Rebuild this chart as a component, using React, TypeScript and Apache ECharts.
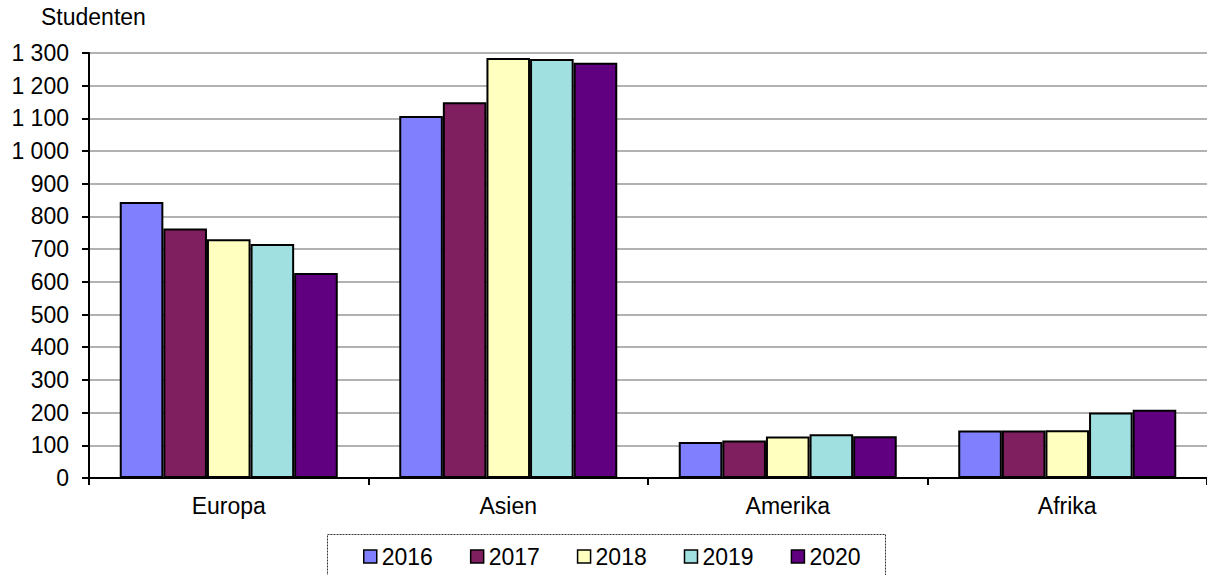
import React, { useEffect, useRef } from "react";
import * as echarts from "echarts";

const categories = ["Europa", "Asien", "Amerika", "Afrika"];
const years = ["2016", "2017", "2018", "2019", "2020"];
const v2016 = [844, 1107, 110, 145];
const v2017 = [763, 1149, 115, 145];
const v2018 = [730, 1285, 127, 146];
const v2019 = [716, 1282, 134, 200];
const v2020 = [627, 1270, 128, 209];
const seriesValues = [v2016, v2017, v2018, v2019, v2020];
const colors = ["#8080ff", "#7f1f5f", "#ffffc0", "#a0e0e0", "#600080"];
const yAxisTitle = "Studenten";

const FONT = "'Liberation Sans', Arial, sans-serif";

function fmt(v: number): string {
  return String(v).replace(/\B(?=(\d{3})+(?!\d))/g, " ");
}

export default function App() {
  const ref = useRef<HTMLDivElement>(null);
  useEffect(() => {
    if (!ref.current) return;
    const chart = echarts.init(ref.current, undefined, { renderer: "svg" });
    chart.setOption({
      animation: false,
      backgroundColor: "#ffffff",
      textStyle: { fontFamily: FONT },
      grid: { left: 89, top: 53, width: 1121, height: 425, containLabel: false },
      xAxis: {
        type: "category",
        data: categories,
        axisLine: { lineStyle: { color: "#000", width: 2 } },
        axisTick: { show: true, length: 7, lineStyle: { color: "#000", width: 2 } },
        axisLabel: { color: "#000", fontSize: 23, fontFamily: FONT, margin: 16 },
      },
      yAxis: {
        type: "value",
        min: 0,
        max: 1300,
        interval: 100,
        axisLine: { show: true, lineStyle: { color: "#000", width: 2 } },
        axisTick: { show: true, length: 7, lineStyle: { color: "#000", width: 2 } },
        axisLabel: {
          color: "#000",
          fontSize: 23,
          fontFamily: FONT,
          margin: 20,
          formatter: (v: number) => fmt(v),
        },
        splitLine: { show: true, lineStyle: { color: "#999", width: 1.5 } },
      },
      legend: {
        data: years,
        left: 363,
        top: 545,
        padding: 0,
        itemWidth: 13,
        itemHeight: 13,
        itemGap: 37,
        icon: "rect",
        itemStyle: { borderColor: "#000", borderWidth: 1.5 },
        textStyle: { color: "#000", fontSize: 23, fontFamily: FONT },
      },
      graphic: [
        {
          type: "text",
          left: 41,
          top: 5,
          style: { text: yAxisTitle, fontSize: 23, fontFamily: FONT, fill: "#000" },
        },
        {
          type: "rect",
          shape: { x: 327.5, y: 534.5, width: 558, height: 60 },
          style: { fill: "none", stroke: "#333", lineWidth: 1, lineDash: [2, 1] },
          silent: true,
        },
      ],
      series: years.map((y, i) => ({
        name: y,
        type: "bar",
        data: seriesValues[i],
        barGap: "0%",
        barCategoryGap: "22%",
        itemStyle: { color: colors[i], borderColor: "#000", borderWidth: 2 },
      })),
    });
    return () => chart.dispose();
  }, []);
  return (
    <div
      ref={ref}
      style={{ position: "fixed", left: 0, top: 0, width: 1207, height: 575 }}
    />
  );
}
